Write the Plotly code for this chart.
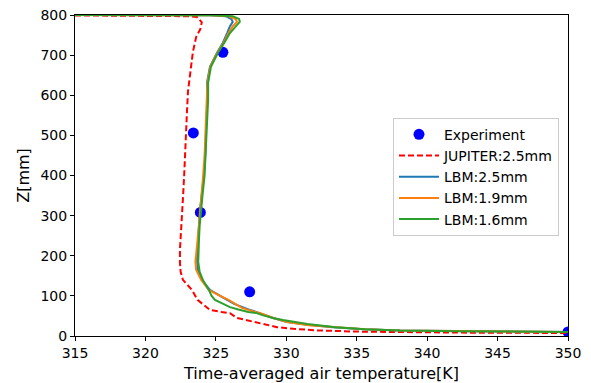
import plotly.graph_objects as go

# Experiment
exp_T = [325.5, 323.4, 323.9, 327.4, 350.0]
exp_z = [707, 506, 308, 110, 10]

# JUPITER 2.5mm (red dashed)
jup_T = [315.0, 320.0, 323.2, 323.66, 324.0, 323.9, 323.6, 323.37, 323.2, 323.02, 322.95, 322.88,
         322.82, 322.75, 322.66, 322.6, 322.5, 322.45, 322.45, 322.5, 322.66, 323.1, 323.3, 323.7,
         324.2, 324.58, 325.4, 326.0, 326.5, 328.13, 329.34, 330.5, 332.17, 335.0, 338.07, 342.0,
         346.0, 350.0]
jup_z = [799, 798.5, 797, 795, 782, 765, 745, 708, 660, 609, 560, 516,
         450, 400, 341, 300, 255, 215, 183, 160, 140, 122, 115, 90,
         75, 65, 60, 57, 45, 32, 22, 18, 14, 11, 9.5, 8.5,
         8, 7.5]

# LBM 2.5mm (blue)
lbm25_T = [315.0, 324.5, 325.7, 326.1, 326.2, 326.0, 325.8, 325.5, 325.08, 324.58, 324.37, 324.4,
           324.3, 324.25, 324.15, 323.98, 323.87, 323.8, 323.73, 323.68, 323.66, 323.73, 324.0,
           324.58, 324.94, 325.4, 325.8, 326.3, 326.85, 327.5, 328.13, 329.05, 330.05, 331.5,
           333.3, 335.5, 338.07, 342.0, 346.0, 350.0]
lbm25_z = [800, 799.5, 797, 790, 783, 772, 755, 731, 706, 671, 631, 589,
           514, 450, 400, 350, 314, 275, 239, 210, 190, 165, 140,
           115, 107, 98, 90, 80, 72, 64, 57, 45, 35, 28,
           22, 17, 13.5, 12, 11, 10]

# LBM 1.9mm (orange)
lbm19_T = [315.0, 324.6, 325.9, 326.4, 326.5, 326.2, 325.9, 325.55, 325.1, 324.6, 324.4, 324.35,
           324.3, 324.2, 324.1, 324.0, 323.9, 323.8, 323.7, 323.6, 323.55, 323.6, 323.95,
           324.5, 324.9, 325.3, 325.9, 326.4, 326.85, 327.6, 328.3, 329.1, 330.05, 331.6,
           333.3, 335.6, 338.07, 342.0, 346.0, 350.0]
lbm19_z = [800, 799.5, 797, 790, 783, 772, 755, 731, 706, 671, 631, 589,
           514, 450, 400, 350, 314, 275, 239, 210, 185, 165, 140,
           115, 107, 100, 90, 80, 70, 62, 55, 45, 35, 27,
           22, 17, 13.5, 12, 11, 10]

# LBM 1.6mm (green)
lbm16_T = [315.0, 324.8, 326.2, 326.65, 326.7, 326.4, 326.0, 325.6, 325.15, 324.65, 324.45, 324.45,
           324.35, 324.3, 324.2, 324.05, 323.95, 323.85, 323.8, 323.75, 323.75, 323.85, 324.1,
           324.5, 324.7, 324.94, 325.5, 326.0, 326.6, 327.3, 327.9, 328.3, 329.05, 329.76, 331.5,
           333.5, 335.6, 338.07, 342.0, 346.0, 350.0]
lbm16_z = [800, 799.5, 797, 790, 783, 772, 755, 731, 706, 671, 631, 589,
           514, 450, 400, 350, 314, 275, 239, 210, 185, 160, 138,
           115, 100, 90, 80, 72, 66, 60, 57, 52, 45, 40, 30,
           22, 17, 13.5, 12, 11, 10]

x_ticks = [315, 320, 325, 330, 335, 340, 345, 350]
y_ticks = [0, 100, 200, 300, 400, 500, 600, 700, 800]

fig = go.Figure()
fig.add_trace(go.Scatter(x=exp_T, y=exp_z, mode="markers", name="Experiment",
                         marker=dict(color="#0000ff", size=11)))
fig.add_trace(go.Scatter(x=jup_T, y=jup_z, mode="lines", name="JUPITER:2.5mm",
                         line=dict(color="#ff0000", width=2, dash="6px,3px")))
fig.add_trace(go.Scatter(x=lbm25_T, y=lbm25_z, mode="lines", name="LBM:2.5mm",
                         line=dict(color="#1f77b4", width=2)))
fig.add_trace(go.Scatter(x=lbm19_T, y=lbm19_z, mode="lines", name="LBM:1.9mm",
                         line=dict(color="#ff7f0e", width=2)))
fig.add_trace(go.Scatter(x=lbm16_T, y=lbm16_z, mode="lines", name="LBM:1.6mm",
                         line=dict(color="#2ca02c", width=2)))

axis_common = dict(showline=True, linecolor="black", linewidth=1, mirror=True,
                   ticks="outside", ticklen=4, tickcolor="black", showgrid=False,
                   zeroline=False, automargin=False,
                   tickfont=dict(family="DejaVu Sans", size=14, color="black"))

fig.update_xaxes(range=[315, 350], tickvals=x_ticks,
                 title=dict(text="Time-averaged air temperature[K]",
                            font=dict(family="DejaVu Sans", size=16, color="black"), standoff=8),
                 **axis_common)
fig.update_yaxes(range=[0, 800], tickvals=y_ticks,
                 title=dict(text="Z[mm]", font=dict(family="DejaVu Sans", size=16, color="black"),
                            standoff=6),
                 **axis_common)

fig.update_layout(
    width=591, height=383,
    margin=dict(l=75, r=23, t=15, b=47),
    plot_bgcolor="white", paper_bgcolor="white",
    font=dict(family="DejaVu Sans", color="black"),
    legend=dict(x=0.645, y=0.68, xanchor="left", yanchor="top",
                bgcolor="white", bordercolor="#cccccc", borderwidth=1,
                font=dict(family="DejaVu Sans", size=14, color="black"),
                tracegroupgap=0, itemwidth=40),
)

fig.write_html("out.html")
